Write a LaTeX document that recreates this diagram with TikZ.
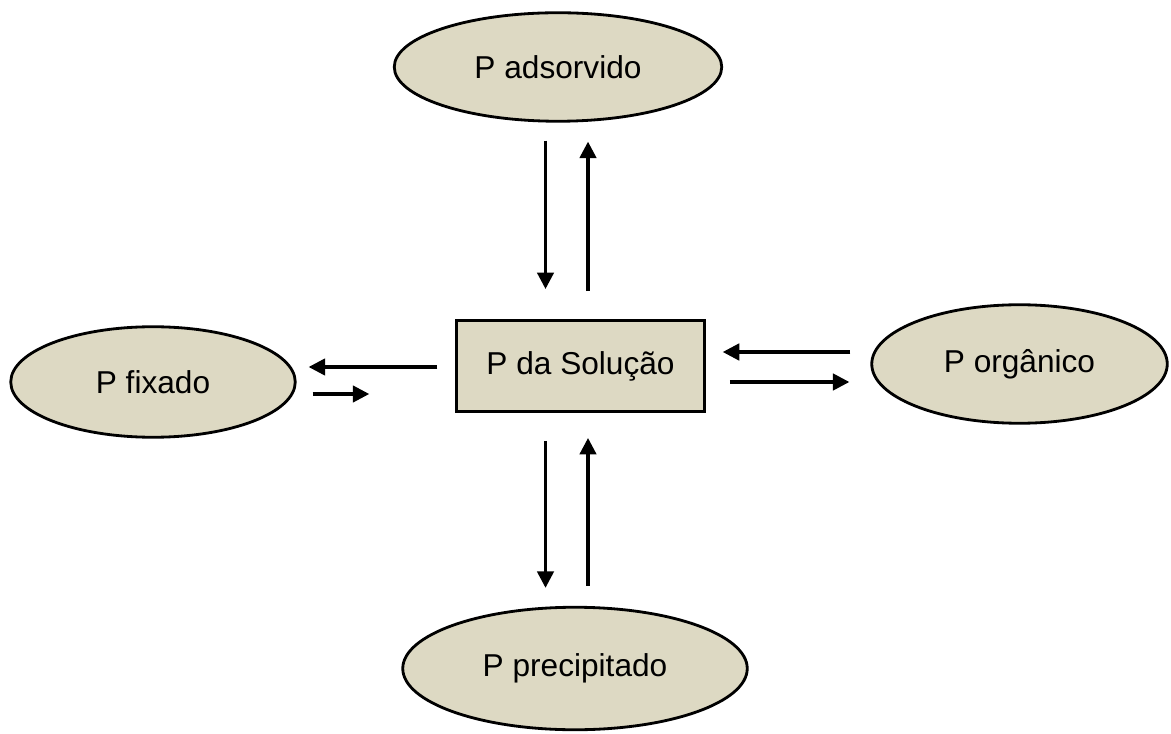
\documentclass[tikz,border=0pt]{standalone}
\usepackage{fontspec}
\setmainfont{Liberation Sans}
\usepackage{xcolor}
\usepackage{tikz}
\usetikzlibrary{arrows.meta,shapes.geometric}

\definecolor{tanfill}{HTML}{DDD9C3}

\begin{document}
\begin{tikzpicture}[>={Triangle[length=0.33cm,width=0.33cm]}, font=\fontsize{18}{22}\selectfont,
    pool/.style={draw, ellipse, fill=tanfill, line width=1.6pt, inner sep=0pt},
    flux/.style={->, line width=1.8pt}]
    \useasboundingbox (0,0) rectangle (23.42,14.66);

    % Solution P (centre)
    \node[draw, fill=tanfill, line width=1.7pt, minimum width=4.95cm, minimum height=1.82cm] (sol) at (11.61,7.34) {P da Solução};

    % Surrounding pools
    \node[pool, minimum width=6.55cm, minimum height=2.17cm] (ads) at (11.16,13.32) {P adsorvido};
    \node[pool, minimum width=5.69cm, minimum height=2.21cm] (fix) at (3.06,7.02) {P fixado};
    \node[pool, minimum width=5.91cm, minimum height=2.37cm] (org) at (20.39,7.38) {P orgânico};
    \node[pool, minimum width=6.89cm, minimum height=2.45cm] (pre) at (11.5,1.29) {P precipitado};

    % Arrows up and down
    \draw[flux, shorten <=0.36cm, shorten >=0.6cm] ([xshift=-0.7cm]sol.north |- ads.south) -- ([xshift=-0.7cm]sol.north);
    \draw[flux, shorten <=0.56cm, shorten >=0.38cm] ([xshift=0.15cm]sol.north) -- ([xshift=0.15cm]sol.north |- ads.south);
    \draw[flux, shorten <=0.56cm, shorten >=0.36cm] ([xshift=-0.7cm]sol.south) -- ([xshift=-0.7cm]sol.south |- pre.north);
    \draw[flux, shorten <=0.4cm, shorten >=0.5cm] ([xshift=0.15cm]sol.south |- pre.north) -- ([xshift=0.15cm]sol.south);

    % Arrows left and right
    \draw[flux, shorten <=0.36cm, shorten >=0.24cm] ([yshift=-0.02cm]sol.west) -- ([yshift=-0.02cm]sol.west -| fix.east);
    \draw[flux, shorten <=0.32cm, shorten >=1.72cm] ([yshift=-0.56cm]sol.west -| fix.east) -- ([yshift=-0.56cm]sol.west);
    \draw[flux, shorten <=0.4cm, shorten >=0.34cm] ([yshift=0.28cm]sol.east -| org.west) -- ([yshift=0.28cm]sol.east);
    \draw[flux, shorten <=0.48cm, shorten >=0.42cm] ([yshift=-0.32cm]sol.east) -- ([yshift=-0.32cm]sol.east -| org.west);
\end{tikzpicture}
\end{document}
